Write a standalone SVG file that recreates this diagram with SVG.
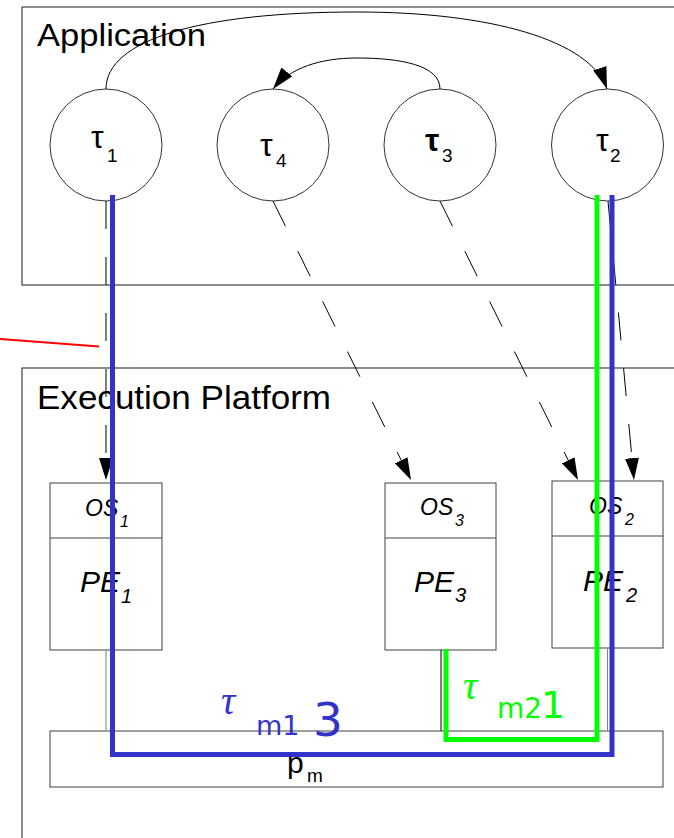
<svg xmlns="http://www.w3.org/2000/svg" width="674" height="838" viewBox="0 0 674 838">
<style>
.frame{fill:none;stroke:#404040;stroke-width:1.2}
.node{fill:#fff;stroke:#333;stroke-width:1}
.box{fill:#fff;stroke:#404040;stroke-width:1}
.title{font-family:"Liberation Sans",Arial,sans-serif;fill:#000}
.tau{font-family:"Liberation Sans",Arial,sans-serif;font-size:32px;fill:#000}
.sub{font-family:"Liberation Sans",Arial,sans-serif;font-size:19px;fill:#000}
.it{font-family:"Liberation Sans",Arial,sans-serif;font-style:italic;fill:#000}
.flow{fill:none;stroke:#000;stroke-width:1}
.dash{fill:none;stroke:#000;stroke-width:1;stroke-dasharray:28 28}
.thin{fill:none;stroke:#808080;stroke-width:1}
.msg{font-family:"DejaVu Sans",Verdana,sans-serif}
.msgtau{font-family:"Liberation Serif","DejaVu Serif",serif;font-style:italic}
</style>
<defs>
<marker id="ah" viewBox="0 0 22 14" refX="22" refY="7" markerWidth="22" markerHeight="14" markerUnits="userSpaceOnUse" orient="auto">
<path d="M0,0 L22,7 L0,14 Z" fill="#000"/>
</marker>
</defs>

<g id="application">
<rect class="frame" x="22" y="7" width="700" height="278"/>
<text class="title" x="37" y="46" font-size="31" textLength="169" lengthAdjust="spacingAndGlyphs">Application</text>
</g>

<g id="platform">
<rect class="frame" x="22" y="368" width="700" height="520"/>
<text class="title" x="37" y="409" font-size="34" textLength="294" lengthAdjust="spacingAndGlyphs">Execution Platform</text>
</g>

<g id="tau1">
<circle class="node" cx="106" cy="145" r="56"/>
<text class="tau" x="91" y="148">τ</text><text class="sub" x="107" y="162">1</text>
</g>
<g id="tau4">
<circle class="node" cx="273" cy="145" r="56"/>
<text class="tau" x="260" y="156">τ</text><text class="sub" x="276" y="167">4</text>
</g>
<g id="tau3">
<circle class="node" cx="440" cy="145" r="56"/>
<text class="tau" x="425" y="151" font-weight="bold">τ</text><text class="sub" x="442" y="162">3</text>
</g>
<g id="tau2">
<circle class="node" cx="607.5" cy="145" r="56"/>
<text class="tau" x="596" y="151">τ</text><text class="sub" x="610" y="162">2</text>
</g>

<g id="pe1">
<rect class="box" x="50" y="483" width="112" height="167"/>
<line class="box" x1="50" y1="538" x2="162" y2="538"/>
<text class="it" x="85" y="516" font-size="23">OS</text><text class="it" x="120" y="527" font-size="16">1</text>
<text class="it" x="80" y="592" font-size="30">PE</text><text class="it" x="121" y="603" font-size="20">1</text>
</g>
<g id="pe3">
<rect class="box" x="385" y="483" width="111" height="167"/>
<line class="box" x1="385" y1="538" x2="496" y2="538"/>
<text class="it" x="420" y="515" font-size="23">OS</text><text class="it" x="455" y="526" font-size="16">3</text>
<text class="it" x="414" y="592" font-size="30">PE</text><text class="it" x="455" y="602" font-size="20">3</text>
</g>
<g id="pe2">
<rect class="box" x="552" y="481" width="111" height="167"/>
<line class="box" x1="552" y1="536" x2="663" y2="536"/>
<text class="it" x="589" y="514" font-size="23">OS</text><text class="it" x="625" y="525" font-size="16">2</text>
<text class="it" x="583" y="591" font-size="30">PE</text><text class="it" x="626" y="602" font-size="20">2</text>
</g>

<g id="bus">
<rect class="box" x="50" y="731" width="613" height="56"/>
<text class="title" x="287" y="773" font-size="30">p</text><text class="title" x="307" y="782" font-size="19">m</text>
</g>

<g id="connectors">
<path class="flow" d="M106,89 C106,40 200,12 357,12 C490,12 590,40 607,89" marker-end="url(#ah)"/>
<path class="flow" d="M440,89 C440,65 400,58 357,58 C320,58 290,68 273,89" marker-end="url(#ah)"/>
<line class="dash" x1="106" y1="201" x2="106" y2="480" stroke="#555" marker-end="url(#ah)"/>
<line class="dash" x1="273" y1="201" x2="411" y2="480" marker-end="url(#ah)"/>
<line class="dash" x1="440" y1="201" x2="578" y2="480" marker-end="url(#ah)"/>
<line class="dash" x1="608" y1="201" x2="634" y2="480" marker-end="url(#ah)"/>
<line class="thin" x1="106" y1="650" x2="106" y2="731"/>
<line class="flow" x1="441" y1="650" x2="441" y2="731"/>
<line class="thin" x1="607.5" y1="648" x2="607.5" y2="731"/>
<line x1="0" y1="339" x2="99" y2="346.5" stroke="#ff0000" stroke-width="2"/>
<path d="M597,195 L597,739.5 L446,739.5 L446,649" fill="none" stroke="#00ff00" stroke-width="5"/>
<path d="M112.5,195 L112.5,754.5 L612,754.5 L612,195" fill="none" stroke="#3333cc" stroke-width="5"/>
<text class="msgtau" x="221" y="714" font-size="40" fill="#3333cc">τ</text>
<text class="msg" x="256" y="735" font-size="27" fill="#3333cc">m1</text>
<text class="msg" x="313" y="736" font-size="47" fill="#3333cc">3</text>
<text class="msgtau" x="463" y="699" font-size="40" fill="#00ff00">τ</text>
<text class="msg" x="497" y="718" font-size="28" fill="#00ff00">m2</text>
<text class="msg" x="541" y="718" font-size="38" fill="#00ff00">1</text>
</g>
</svg>
